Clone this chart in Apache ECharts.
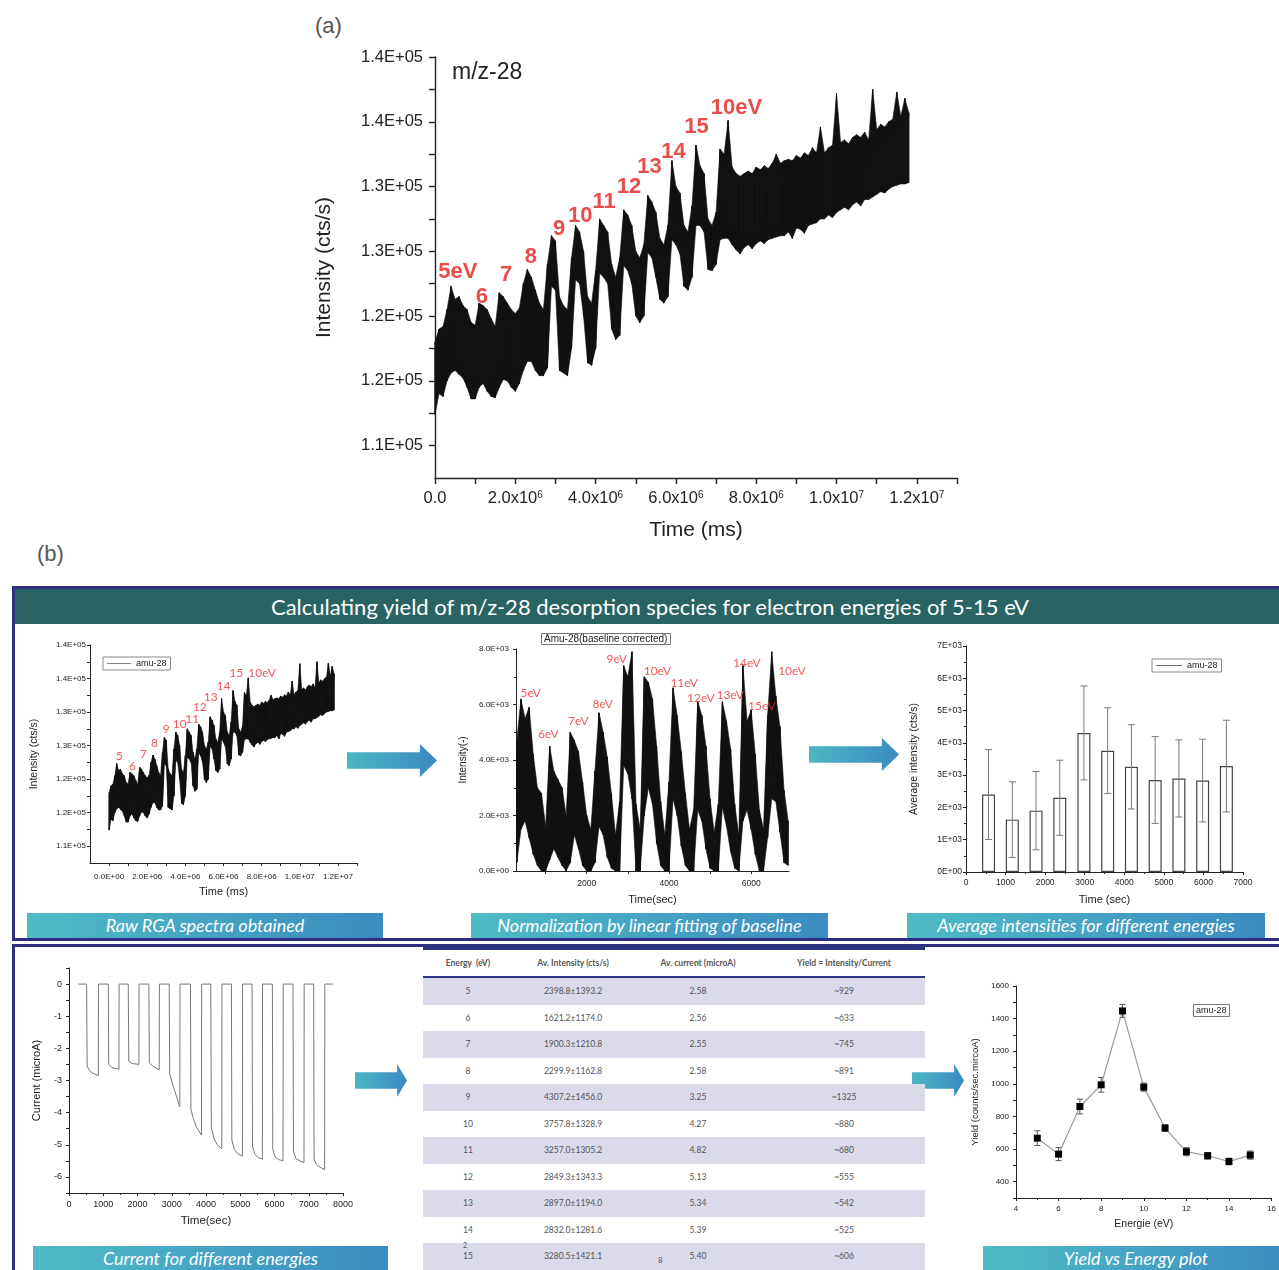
<!DOCTYPE html>
<html>
<head>
<meta charset="utf-8">
<title>m/z-28 desorption yield</title>
<script src="https://cdn.jsdelivr.net/npm/echarts@6.0.0/dist/echarts.min.js"></script>
<style>
  body { margin: 0; background: #fff; }
  #page { position: relative; width: 1279px; height: 1270px; overflow: hidden; font-family: "Liberation Sans", Arial, sans-serif; }
  .tag { position: absolute; font-size: 22px; color: #555; }
  .box { position: absolute; border: 3px solid #2d2d82; box-sizing: border-box; }
  .banner { position: absolute; left: 15px; top: 589px; width: 1264px; height: 35px; background: #296462; color: #fff;
            font-family: Lato, sans-serif; font-size: 22px; line-height: 35px; text-align: center; text-indent: 6px; }
  .cap { position: absolute; height: 25px; background: linear-gradient(90deg, #4fbcc5, #3b8cc1); color: #fff;
         font-family: Lato, sans-serif; font-style: italic; font-size: 18px; line-height: 25px; text-align: center; }
  .arrow { position: absolute; background: linear-gradient(90deg, #4cb6c3, #3a8ac0);
           clip-path: polygon(0 25%, 81% 25%, 81% 0, 100% 50%, 81% 100%, 81% 75%, 0 75%); }
  .chart { position: absolute; }
  #tbl { position: absolute; left: 423px; top: 945px; width: 502px; border-collapse: collapse; table-layout: fixed;
         font-family: Lato, sans-serif; font-size: 8.5px; color: #555; }
  #tbl th { height: 26px; padding: 0; font-weight: bold; color: #555; border-top: 5px solid #2e3587; border-bottom: 2px solid #2e3587; }
  #tbl td { height: 26.5px; padding: 0; text-align: center; }
  #tbl tr.odd td { background: #dadaea; }
  .note { position: absolute; font-family: Lato, sans-serif; font-size: 8px; color: #555; }
</style>
</head>
<body>
<div id="page">
  <div class="tag" style="left:315px;top:13px;">(a)</div>
  <div class="tag" style="left:37px;top:541px;">(b)</div>

  <div class="box" style="left:12px;top:586px;width:1300px;height:355px;"></div>
  <div class="box" style="left:12px;top:944px;width:1300px;height:400px;"></div>
  <div class="banner">Calculating yield of m/z-28 desorption species for electron energies of 5-15 eV</div>

  <div class="cap" style="left:27px;top:913px;width:356px;">Raw RGA spectra obtained</div>
  <div class="cap" style="left:471px;top:913px;width:357px;">Normalization by linear fitting of baseline</div>
  <div class="cap" style="left:907px;top:913px;width:358px;">Average intensities for different energies</div>
  <div class="cap" style="left:33px;top:1246px;width:355px;height:24px;">Current for different energies</div>
  <div class="cap" style="left:983px;top:1246px;width:306px;height:24px;">Yield vs Energy plot</div>

  <div class="arrow" style="left:347px;top:744px;width:90px;height:33px;"></div>
  <div class="arrow" style="left:809px;top:738px;width:90px;height:33px;"></div>
  <div class="arrow" style="left:355px;top:1064px;width:52px;height:33px;"></div>
  <div class="arrow" style="left:912px;top:1064px;width:52px;height:33px;"></div>

  <div id="chartA" class="chart" style="left:280px;top:35px;width:690px;height:520px;"></div>
  <div id="chartRaw" class="chart" style="left:16px;top:628px;width:372px;height:280px;"></div>
  <div id="chartNorm" class="chart" style="left:445px;top:625px;width:370px;height:285px;"></div>
  <div id="chartAvg" class="chart" style="left:895px;top:630px;width:375px;height:280px;"></div>
  <div id="chartCurrent" class="chart" style="left:20px;top:955px;width:345px;height:285px;"></div>
  <div id="chartYield" class="chart" style="left:960px;top:975px;width:319px;height:265px;"></div>

  <table id="tbl"></table>
  <div class="note" style="left:463px;top:1241px;font-size:7px;">2</div>
  <div class="note" style="left:658px;top:1255px;">8</div>
</div>

<script>
// ---- raw RGA trace m/z-28 (noise band every 0.1e6 ms) ----
var rawTime = [0.0, 0.1, 0.2, 0.3, 0.4, 0.5, 0.6, 0.7, 0.8, 0.9, 1.0, 1.1, 1.2, 1.3, 1.4, 1.5, 1.6, 1.7, 1.8, 1.9,
  2.0, 2.1, 2.2, 2.3, 2.4, 2.5, 2.6, 2.7, 2.8, 2.9, 3.0, 3.1, 3.2, 3.3, 3.4, 3.5, 3.6, 3.7, 3.8, 3.9,
  4.0, 4.1, 4.2, 4.3, 4.4, 4.5, 4.6, 4.7, 4.8, 4.9, 5.0, 5.1, 5.2, 5.3, 5.4, 5.5, 5.6, 5.7, 5.8, 5.9,
  6.0, 6.1, 6.2, 6.3, 6.4, 6.5, 6.6, 6.7, 6.8, 6.9, 7.0, 7.1, 7.2, 7.3, 7.4, 7.5, 7.6, 7.7, 7.8, 7.9,
  8.0, 8.1, 8.2, 8.3, 8.4, 8.5, 8.6, 8.7, 8.8, 8.9, 9.0, 9.1, 9.2, 9.3, 9.4, 9.5, 9.6, 9.7, 9.8, 9.9,
  10.0, 10.1, 10.2, 10.3, 10.4, 10.5, 10.6, 10.7, 10.8, 10.9, 11.0, 11.1, 11.2, 11.3, 11.4, 11.5, 11.6, 11.7, 11.8]; // x10^6 ms
var rawHigh = [118.0, 119.0, 119.2, 120.5, 122.3, 121.3, 121.5, 120.8, 120.5, 119.5, 119.3, 121.0, 120.8, 120.5, 119.8, 119.2, 121.8, 121.5, 121.0, 120.5,
  120.2, 120.6, 122.5, 123.6, 123.0, 122.0, 121.0, 120.5, 124.0, 126.2, 125.8, 121.5, 120.8, 120.5, 124.5, 127.0, 126.5, 125.0, 121.5, 121.0,
  123.5, 127.5, 127.0, 126.5, 124.0, 123.0, 124.5, 128.2, 127.8, 127.0, 125.0, 124.5, 125.5, 129.3, 128.8, 128.0, 126.0, 125.5, 127.0, 132.0,
  130.0, 129.5, 127.0, 126.5, 128.5, 133.2, 131.6, 131.0, 127.5, 127.0, 128.0, 132.9, 132.5, 135.1, 131.5, 131.0, 130.8, 131.0, 131.2, 131.0,
  131.5, 131.3, 131.6, 131.4, 131.8, 132.5, 131.8, 132.0, 132.1, 132.0, 132.4, 132.2, 132.6, 132.4, 133.0, 132.6, 134.6, 132.6, 133.0, 133.2,
  137.2, 133.4, 133.6, 133.3, 133.8, 134.0, 133.8, 134.2, 133.6, 137.5, 134.4, 134.8, 134.6, 135.0, 135.2, 137.3, 135.4, 136.8, 135.7]; // x1000 cts/s
var rawLow = [112.4, 114.0, 113.8, 115.0, 115.6, 115.8, 115.5, 115.2, 114.5, 113.6, 113.6, 114.5, 114.8, 114.2, 113.8, 113.7, 114.5, 115.1, 115.0, 114.5,
  114.2, 114.8, 115.8, 116.5, 116.5, 115.8, 115.4, 115.4, 116.0, 122.3, 122.0, 115.8, 115.6, 115.4, 117.5, 122.8, 122.5, 120.0, 116.4, 116.2,
  117.5, 123.3, 123.0, 122.5, 119.0, 118.2, 118.5, 123.9, 123.5, 122.5, 120.0, 119.5, 120.0, 124.9, 124.5, 123.0, 121.3, 121.0, 121.5, 125.9,
  125.5, 124.8, 122.3, 122.0, 123.0, 127.0, 127.0, 126.5, 123.6, 123.5, 124.0, 125.9, 126.0, 126.0, 125.5, 125.1, 124.8, 125.3, 125.5, 125.2,
  125.6, 125.8, 125.6, 125.9, 126.0, 126.1, 126.2, 126.2, 126.5, 126.0, 126.8, 126.7, 126.4, 127.0, 127.1, 127.2, 127.5, 127.5, 127.8, 127.6,
  128.0, 128.2, 128.4, 128.2, 128.6, 128.8, 128.5, 129.0, 129.0, 129.2, 129.4, 129.6, 129.5, 129.8, 130.0, 130.1, 130.2, 130.2, 130.3];

// energy labels on the raw trace
var rawLabelText = ['5eV', '6', '7', '8', '9', '10', '11', '12', '13', '14', '15', '10eV'];
var rawLabelTime = [0.57, 1.17, 1.77, 2.39, 3.09, 3.62, 4.21, 4.83, 5.34, 5.94, 6.51, 7.51];
var rawLabelValue = [123.4, 121.5, 123.2, 124.6, 126.7, 127.7, 128.8, 130.0, 131.5, 132.7, 134.6, 136.1];
var smallLabelText = ['5', '6', '7', '8', '9', '10', '11', '12', '13', '14', '15', '10eV'];
var smallLabelTime = [0.53, 1.23, 1.8, 2.38, 3.0, 3.7, 4.36, 4.76, 5.33, 6.0, 6.67, 8.02];
var smallLabelValue = [123.4, 122.0, 123.8, 125.3, 127.4, 128.2, 129.0, 130.8, 132.2, 133.8, 135.8, 135.8];

// ---- baseline corrected trace (band read every 100 s) ----
var normTime = [300, 400, 500, 600, 700, 800, 900, 1000, 1100, 1200, 1300, 1400, 1500, 1600, 1700, 1800, 1900, 2000, 2100, 2200,
  2300, 2400, 2500, 2600, 2700, 2800, 2900, 3000, 3100, 3200, 3300, 3400, 3500, 3600, 3700, 3800, 3900, 4000, 4100, 4200,
  4300, 4400, 4500, 4600, 4700, 4800, 4900, 5000, 5100, 5200, 5300, 5400, 5500, 5600, 5700, 5800, 5900, 6000, 6100, 6200,
  6300, 6400, 6500, 6600, 6700, 6800, 6900];
var normHigh = [4700, 6200, 5500, 5900, 4200, 3000, 2800, 1600, 4500, 3600, 3300, 3000, 2000, 5000, 4700, 4300, 3200, 2000, 1500, 3600,
  5700, 5000, 4100, 2800, 1300, 2500, 7400, 7000, 7900, 2400, 1500, 7000, 6800, 6200, 4500, 2500, 1300, 3200, 6600, 5600,
  4300, 2800, 1500, 2200, 6100, 5600, 4500, 2600, 1400, 2400, 6100, 5400, 4400, 2400, 1300, 7400, 5400, 5800, 4200, 2200,
  1500, 5600, 7900, 6300, 5200, 2900, 1800];
var normLow = [300, 1500, 1800, 1200, 600, 200, 0, 0, 400, 800, 500, 200, 0, 300, 1300, 800, 200, 0, 0, 300,
  1600, 1300, 500, 100, 0, 0, 3800, 3500, 2600, 0, 0, 2000, 3000, 2400, 1000, 200, 0, 0, 2600, 2000,
  900, 200, 0, 0, 2200, 1800, 800, 100, 0, 0, 2300, 1600, 700, 100, 0, 1800, 2200, 1500, 600, 0,
  0, 1200, 2600, 2500, 1400, 300, 200];
var normLabelText = ['5eV', '6eV', '7eV', '8eV', '9eV', '10eV', '11eV', '12eV', '13eV', '14eV', '15eV', '10eV'];
var normLabelTime = [637, 1067, 1797, 2389, 2730, 3720, 4369, 4775, 5489, 5895, 6260, 6990];
var normLabelValue = [6410, 4920, 5400, 6020, 7640, 7190, 6770, 6240, 6320, 7490, 5940, 7190];

// ---- table / average intensities ----
var tableEnergy = [5, 6, 7, 8, 9, 10, 11, 12, 13, 14, 15];
var tableIntensity = [2398.8, 1621.2, 1900.3, 2299.9, 4307.2, 3757.8, 3257.0, 2849.3, 2897.0, 2832.0, 3280.5];
var tableIntensityErr = [1393.2, 1174.0, 1210.8, 1162.8, 1456.0, 1328.9, 1305.2, 1343.3, 1194.0, 1281.6, 1421.1];
var tableCurrent = ['2.58', '2.56', '2.55', '2.58', '3.25', '4.27', '4.82', '5.13', '5.34', '5.39', '5.40'];
var tableYield = ['~929', '~633', '~745', '~891', '~1325', '~880', '~680', '~555', '~542', '~525', '~606'];
var avgTime = [570, 1170, 1770, 2370, 2980, 3580, 4180, 4780, 5380, 5980, 6580]; // bar centres (sec)

// ---- sample current ----
var currentTime = [270, 515, 530, 600, 700, 855, 860, 1147, 1160, 1250, 1458, 1463, 1730, 1745, 1830, 2041, 2046,
  2332, 2345, 2450, 2634, 2639, 2925, 2940, 3050, 3236, 3241, 3547, 3560, 3620, 3720, 3868, 3873,
  4140, 4155, 4230, 4330, 4461, 4466, 4742, 4755, 4830, 4930, 5063, 5068, 5345, 5358, 5430, 5530, 5646, 5651,
  5938, 5950, 6020, 6120, 6249, 6254, 6540, 6553, 6620, 6730, 6861, 6866, 7143, 7156, 7230, 7330, 7464, 7469, 7707];
var currentValue = [0, 0, -2.55, -2.7, -2.78, -2.85, 0, 0, -2.5, -2.6, -2.65, 0, 0, -2.4, -2.47, -2.5, 0,
  0, -2.45, -2.55, -2.67, 0, 0, -2.8, -3.2, -3.82, 0, 0, -3.9, -4.15, -4.45, -4.7, 0,
  0, -4.45, -4.8, -5.0, -5.12, 0, 0, -4.85, -5.15, -5.28, -5.35, 0, 0, -5.05, -5.3, -5.4, -5.45, 0,
  0, -5.15, -5.38, -5.46, -5.5, 0, 0, -5.2, -5.42, -5.5, -5.55, 0, 0, -5.45, -5.62, -5.7, -5.77, 0, 0];

// ---- yield vs energy ----
var yieldEnergy = [5, 6, 7, 8, 9, 10, 11, 12, 13, 14, 15];
var yieldValue = [667, 569, 861, 994, 1447, 980, 729, 584, 559, 524, 563];
var yieldErr = [45, 40, 45, 45, 40, 25, 20, 25, 20, 20, 25];

var FONT = '"Liberation Sans", Arial, sans-serif';
var GILL = 'Lato, sans-serif';
var INK = '#222';

// 140000 -> "1.4E+05"
function sci(v, digits) {
    var s = v.toExponential(digits).split('e');
    var e = parseInt(s[1], 10);
    return s[0] + 'E' + (e < 0 ? '-' : '+') + (Math.abs(e) < 10 ? '0' : '') + Math.abs(e);
}
function plain(v) { return String(v); }

// noisy trace: filled band between the read low/high edges, with a zig-zag on top for the ragged look
function bandSeries(ts, lo, hi, kx, ky, name) {
    var cells = [], zig = [];
    for (var i = 0; i < ts.length; i++) {
        zig.push([ts[i] * kx, hi[i] * ky]);
        zig.push([ts[i] * kx, lo[i] * ky]);
        if (i < ts.length - 1) {
            cells.push([ts[i] * kx, lo[i] * ky, hi[i] * ky, ts[i + 1] * kx, lo[i + 1] * ky, hi[i + 1] * ky]);
        }
    }
    return [{
        type: 'custom', silent: true, encode: { x: [0, 3], y: [1, 2, 4, 5] }, data: cells,
        renderItem: function (params, api) {
            var p = [
                api.coord([api.value(0), api.value(1)]),
                api.coord([api.value(0), api.value(2)]),
                api.coord([api.value(3), api.value(5)]),
                api.coord([api.value(3), api.value(4)])
            ];
            return { type: 'polygon', shape: { points: p }, style: { fill: '#111', stroke: '#111', lineWidth: 0.6 } };
        }
    }, {
        name: name, type: 'line', symbol: 'none', silent: true, data: zig,
        itemStyle: { color: '#111' }, lineStyle: { width: 1, color: '#111' }
    }];
}

function labelPoints(ts, vs, txt, kx, ky) {
    return ts.map(function (t, i) {
        return { name: txt[i], value: [t * kx, vs[i] * ky] };
    });
}

function labelSeries(points, style) {
    style.show = true;
    style.position = 'inside';
    style.formatter = '{b}';
    return { type: 'scatter', symbolSize: 0, clip: false, z: 10, silent: true, data: points, label: style };
}

function axis(o) {
    return {
        type: 'value', min: o.min, max: o.max, interval: o.interval,
        name: o.name, nameLocation: 'middle', nameGap: o.gap,
        nameTextStyle: { color: INK, fontSize: o.nameSize, fontFamily: FONT },
        axisLine: { show: true, onZero: false, lineStyle: { color: INK, width: o.lw || 1 } },
        axisTick: { show: true, length: o.tick || 3, customValues: o.ticks, lineStyle: { color: INK, width: o.lw || 1 } },
        minorTick: { show: !!o.minor, splitNumber: o.minor || 2, length: 2, lineStyle: { color: INK } },
        axisLabel: { color: INK, fontSize: o.size, fontFamily: FONT, margin: o.margin || 4,
            customValues: o.labels, formatter: o.fmt || plain, rich: o.rich },
        splitLine: { show: false }
    };
}

function errorBars(capHalf, color) {
    return function (params, api) {
        var a = api.coord([api.value(0), api.value(2)]);
        var b = api.coord([api.value(0), api.value(1)]);
        var st = { stroke: color, lineWidth: 1 };
        return {
            type: 'group', children: [
                { type: 'line', shape: { x1: a[0], y1: a[1], x2: b[0], y2: b[1] }, style: st },
                { type: 'line', shape: { x1: a[0] - capHalf, y1: a[1], x2: a[0] + capHalf, y2: a[1] }, style: st },
                { type: 'line', shape: { x1: b[0] - capHalf, y1: b[1], x2: b[0] + capHalf, y2: b[1] }, style: st }
            ]
        };
    };
}

function draw(id, option) {
    var chart = echarts.init(document.getElementById(id));
    option.animation = false;
    chart.setOption(option);
    return chart;
}

// intensity ticks: labels every 5000 from 1.1E+05, minor marks every 2500
var intLabels = [110000, 115000, 120000, 125000, 130000, 135000, 140000];
var intTicks = [110000, 112500, 115000, 117500, 120000, 122500, 125000, 127500, 130000, 132500, 135000, 137500, 140000];
var msLabels = [0, 2e6, 4e6, 6e6, 8e6, 10e6, 12e6];
var msTicks = [0, 1e6, 2e6, 3e6, 4e6, 5e6, 6e6, 7e6, 8e6, 9e6, 10e6, 11e6, 12e6, 13e6];
var lineIcon = 'path://M0,4L30,4L30,5L0,5Z';

// (a) large raw trace
draw('chartA', {
    grid: { left: 155, top: 22, width: 522, height: 421 },
    xAxis: axis({
        min: 0, max: 13e6, labels: msLabels, ticks: msTicks, size: 16.5, margin: 12, tick: 6, lw: 1.4,
        name: 'Time (ms)', gap: 42, nameSize: 21,
        fmt: function (v) {
            if (v === 0) return '{n|0.0}';
            var e = Math.floor(Math.log10(v) + 1e-9);
            return '{n|' + (v / Math.pow(10, e)).toFixed(1) + 'x10}{s|' + e + '}';
        },
        rich: {
            n: { fontSize: 16.5, color: INK, fontFamily: FONT },
            s: { fontSize: 10, color: INK, fontFamily: FONT, verticalAlign: 'top' }
        }
    }),
    yAxis: axis({
        min: 107500, max: 140000, labels: intLabels, ticks: intTicks, size: 16.5, margin: 12, tick: 6, lw: 1.4,
        name: 'Intensity (cts/s)', gap: 100, nameSize: 21,
        fmt: function (v) { return sci(v, 1); }
    }),
    graphic: [{ type: 'text', left: 172, top: 26, style: { text: 'm/z-28', fontSize: 23, fill: INK, fontFamily: FONT } }],
    series: bandSeries(rawTime, rawLow, rawHigh, 1e6, 1000, 'm/z-28').concat([
        labelSeries(labelPoints(rawLabelTime, rawLabelValue, rawLabelText, 1e6, 1000),
            { color: '#e3201b', fontSize: 22, fontWeight: 'bold', fontFamily: FONT })
    ])
});

// (b) raw spectra thumbnail
draw('chartRaw', {
    grid: { left: 74, top: 17, width: 267, height: 218 },
    legend: {
        data: [{ name: 'amu-28', icon: lineIcon }],
        left: 87, top: 29, padding: [2, 4], itemWidth: 24, itemHeight: 8, borderWidth: 1, borderColor: '#888',
        backgroundColor: '#fff', itemStyle: { color: '#666' }, textStyle: { fontSize: 9, color: INK, fontFamily: FONT }
    },
    xAxis: axis({
        min: -1e6, max: 13e6, labels: msLabels, ticks: msTicks, size: 8, margin: 10,
        name: 'Time (ms)', gap: 23, nameSize: 11, fmt: function (v) { return sci(v, 1); }
    }),
    yAxis: axis({
        min: 107500, max: 140000, labels: intLabels, ticks: intTicks, size: 8, margin: 4,
        name: 'Intensity (cts/s)', gap: 50, nameSize: 10.5, fmt: function (v) { return sci(v, 1); }
    }),
    series: bandSeries(rawTime, rawLow, rawHigh, 1e6, 1000, 'amu-28').concat([
        labelSeries(labelPoints(smallLabelTime, smallLabelValue, smallLabelText, 1e6, 1000),
            { color: '#e8312f', fontSize: 12, fontFamily: GILL })
    ])
});

// (b) baseline corrected
draw('chartNorm', {
    title: {
        text: 'Amu-28(baseline corrected)', left: 96, top: 8, padding: [1, 3], borderWidth: 1, borderColor: '#777',
        textStyle: { fontSize: 10, fontWeight: 'normal', color: INK, fontFamily: FONT }
    },
    grid: { left: 71, top: 24, width: 273, height: 222 },
    xAxis: axis({
        min: 280, max: 6920, labels: [2000, 4000, 6000], ticks: [1000, 2000, 3000, 4000, 5000, 6000], size: 8.5, margin: 8,
        name: 'Time(sec)', gap: 23, nameSize: 11
    }),
    yAxis: axis({
        min: 0, max: 8000, interval: 2000, minor: 2, size: 8, margin: 7,
        name: 'Intensity(-)', gap: 48, nameSize: 10, fmt: function (v) { return sci(v, 1); }
    }),
    series: bandSeries(normTime, normLow, normHigh, 1, 1, 'Amu-28').concat([
        labelSeries(labelPoints(normLabelTime, normLabelValue, normLabelText, 1, 1),
            { color: '#e8312f', fontSize: 12, fontFamily: GILL })
    ])
});

// (b) average intensities with error bars
draw('chartAvg', {
    grid: { left: 71, top: 16, width: 277, height: 226 },
    legend: {
        data: [{ name: 'amu-28', icon: lineIcon }],
        left: 257, top: 29, padding: [2, 4], itemWidth: 26, itemHeight: 8, borderWidth: 1, borderColor: '#888',
        itemStyle: { color: '#555', borderWidth: 0 }, textStyle: { fontSize: 9, color: INK, fontFamily: FONT }
    },
    xAxis: axis({ min: 0, max: 7000, interval: 1000, minor: 2, size: 8.5, margin: 6, name: 'Time (sec)', gap: 22, nameSize: 11 }),
    yAxis: axis({
        min: 0, max: 7000, interval: 1000, minor: 2, size: 8.5, margin: 4,
        name: 'Average intensity (cts/s)', gap: 46, nameSize: 10.5, fmt: function (v) { return sci(v, 0); }
    }),
    series: [{
        name: 'amu-28', type: 'bar', barWidth: 13,
        data: avgTime.map(function (t, i) { return [t, tableIntensity[i]]; }),
        itemStyle: { color: '#fff', borderColor: '#444', borderWidth: 1.2 }
    }, {
        type: 'custom', z: 5, renderItem: errorBars(3.5, '#777'),
        data: avgTime.map(function (t, i) {
            return [t, tableIntensity[i] - tableIntensityErr[i], tableIntensity[i] + tableIntensityErr[i]];
        })
    }]
});

// (b) current for different energies
draw('chartCurrent', {
    grid: { left: 49, top: 13, width: 274, height: 225 },
    xAxis: axis({ min: 0, max: 8000, interval: 1000, minor: 2, size: 9, margin: 7, name: 'Time(sec)', gap: 22, nameSize: 11.5 }),
    yAxis: axis({
        min: -6.5, max: 0.5, labels: [0, -1, -2, -3, -4, -5, -6],
        ticks: [0.5, 0, -0.5, -1, -1.5, -2, -2.5, -3, -3.5, -4, -4.5, -5, -5.5, -6, -6.5],
        size: 9, margin: 7, name: 'Current (microA)', gap: 27, nameSize: 11
    }),
    series: [{
        type: 'line', symbol: 'none', data: currentTime.map(function (t, i) { return [t, currentValue[i]]; }),
        lineStyle: { color: '#777', width: 1 }
    }]
});

// (b) yield vs energy
draw('chartYield', {
    title: {
        text: 'amu-28', left: 233, top: 29, padding: [2, 3], borderWidth: 1, borderColor: '#777',
        textStyle: { fontSize: 9, fontWeight: 'normal', color: INK, fontFamily: FONT }
    },
    grid: { left: 56, top: 11, width: 260, height: 212 },
    xAxis: axis({ min: 4, max: 16, interval: 2, minor: 2, size: 8, margin: 7, name: 'Energie (eV)', gap: 21, nameSize: 10.5 }),
    yAxis: axis({
        min: 300, max: 1600, labels: [400, 600, 800, 1000, 1200, 1400, 1600],
        ticks: [300, 400, 500, 600, 700, 800, 900, 1000, 1100, 1200, 1300, 1400, 1500, 1600],
        size: 8, margin: 7, name: 'Yield (counts/sec.mircoA)', gap: 29, nameSize: 9.5
    }),
    series: [{
        type: 'custom', renderItem: errorBars(3, '#555'),
        data: yieldEnergy.map(function (e, i) { return [e, yieldValue[i] - yieldErr[i], yieldValue[i] + yieldErr[i]]; })
    }, {
        type: 'line', z: 4, symbol: 'rect', symbolSize: 7,
        data: yieldEnergy.map(function (e, i) { return [e, yieldValue[i]]; }),
        lineStyle: { color: '#999', width: 1.2 }, itemStyle: { color: '#000' }
    }]
});

// summary table
var html = '<colgroup><col style="width:90px"><col style="width:120px"><col style="width:130px"><col style="width:162px"></colgroup>' +
    '<tr><th>Energy&nbsp; (eV)</th><th>Av. Intensity (cts/s)</th><th>Av. current (microA)</th><th>Yield = Intensity/Current</th></tr>';
tableEnergy.forEach(function (e, i) {
    html += '<tr class="' + (i % 2 === 0 ? 'odd' : '') + '"><td>' + e + '</td><td>' +
        tableIntensity[i].toFixed(1) + '±' + tableIntensityErr[i].toFixed(1) + '</td><td>' +
        tableCurrent[i] + '</td><td>' + tableYield[i] + '</td></tr>';
});
document.getElementById('tbl').innerHTML = html;
</script>
</body>
</html>
